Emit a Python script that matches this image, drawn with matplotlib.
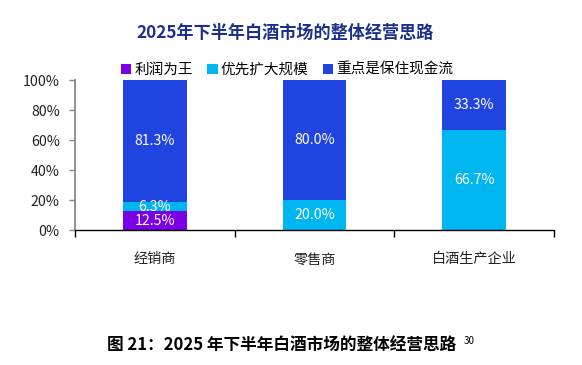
import matplotlib
matplotlib.use("Agg")
import matplotlib.pyplot as plt
import numpy as np

plt.rcParams['font.family'] = ['Noto Sans CJK SC', 'DejaVu Sans']

categories = ["经销商", "零售商", "白酒生产企业"]
series_names = ["利润为王", "优先扩大规模", "重点是保住现金流"]
profit = [12.5, 0.0, 0.0]
expand = [6.3, 20.0, 66.7]
cash = [81.3, 80.0, 33.3]
colors = ["#7A00E6", "#00B6F0", "#1F44E0"]
yticks = [0, 20, 40, 60, 80, 100]

W, H = 582, 365
fig = plt.figure(figsize=(W / 100, H / 100), dpi=100)
ax = fig.add_axes([75 / W, 1 - 230 / H, (554 - 75) / W, (230 - 80) / H])

x = np.arange(len(categories))
bottom = np.zeros(len(categories))
for name, vals, c in zip(series_names, [profit, expand, cash], colors):
    vals = np.array(vals)
    ax.bar(x, vals, 0.4, bottom=bottom, color=c, label=name)
    for xi, v, b in zip(x, vals, bottom):
        if v > 0:
            ax.text(xi, b + v / 2, f"{v:.1f}%", ha="center", va="center",
                    color="white", fontsize=10.2)
    bottom += vals

ax.set_xlim(-0.5, 2.5)
ax.set_ylim(0, 100)
ax.set_yticks(yticks)
ax.set_yticklabels([f"{t}%" for t in yticks], fontsize=10.2, color="#222222")
ax.set_xticks(x)
ax.set_xticklabels(categories, fontsize=10.2, color="#222222")
ax.tick_params(axis="x", length=0, pad=16)
ax.set_xticks([-0.5, 0.5, 1.5, 2.5], minor=True)
ax.tick_params(axis="x", which="minor", length=5, width=1, color="black")
ax.tick_params(axis="y", length=4, width=1, color="#888888", pad=7)
for s in ["top", "right"]:
    ax.spines[s].set_visible(False)
ax.spines["left"].set_color("#888888")
ax.spines["left"].set_linewidth(1.3)
ax.spines["bottom"].set_color("black")
ax.spines["bottom"].set_linewidth(1.0)

fig.legend(loc="center", bbox_to_anchor=(287 / W, 1 - 70 / H), ncol=3, frameon=False,
           fontsize=10.5, handlelength=0.7, handleheight=0.7, handletextpad=0.2,
           columnspacing=1.0, borderaxespad=0)

fig.text(285 / W, 1 - 33 / H, "2025年下半年白酒市场的整体经营思路", ha="center", va="center",
         fontsize=12.3, fontweight="bold", color="#1B2F8C")

fig.text(107 / W, 1 - 345 / H, "图 21：2025 年下半年白酒市场的整体经营思路",
         ha="left", va="center", fontsize=12, fontweight="bold", color="black")
fig.text(464 / W, 1 - 341 / H, "30", ha="left", va="center", fontsize=7, color="black")

fig.savefig("out.png", dpi=100)
